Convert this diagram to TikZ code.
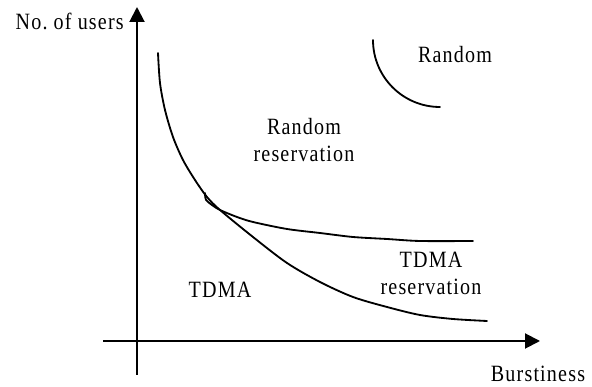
\documentclass[tikz,border=0pt]{standalone}
\usepackage{fontspec}
\setmainfont{Liberation Serif}[FakeStretch=0.86, LetterSpace=5]
\usepackage{tikz}
\usetikzlibrary{arrows.meta,calc,positioning}

\tikzset{
  axis/.style={line width=1.4pt, -{Triangle[length=0.375cm,width=0.375cm]}},
  border/.style={line width=1.3pt, line cap=round},
  lbl/.style={inner sep=0pt, anchor=base, font=\fontsize{16.6}{19}\selectfont}
}

\begin{document}
\begin{tikzpicture}
        \useasboundingbox (0,0) rectangle (14.8,9.675);
        % Axes
        \coordinate (ybot) at (3.425,0.3);
        \coordinate (ytop) at (3.425,9.5);
        \coordinate (xleft) at (2.575,1.15);
        \coordinate (xright) at (13.5,1.15);
        \draw[axis] (ybot) -- (ytop);
        \draw[axis] (xleft) -- (xright);
        \node[lbl, anchor=base east] (users) at (3.1,8.925) {No.\ of users};
        \node[lbl] (burst) at (13.45,0.125) {Burstiness};
        % Boundary TDMA / random reservation
        \draw[border] plot[smooth] coordinates {(3.95,8.35) (4.0,7.6) (4.125,6.925)
          (4.325,6.25) (4.575,5.675) (4.875,5.175) (5.175,4.75) (5.5,4.425)
          (6.325,3.75) (7.175,3.1) (8.0,2.625) (8.825,2.25) (9.675,2.0)
          (10.5,1.8) (11.325,1.7) (12.175,1.65)};
        % Boundary TDMA reservation
        \draw[border] plot[smooth] coordinates {(5.125,4.85) (5.15,4.68) (5.3,4.55)
          (5.5,4.425) (5.925,4.25) (6.325,4.125) (7.175,3.95) (8.0,3.85)
          (8.825,3.75) (9.675,3.7) (10.5,3.65) (11.825,3.65)};
        % Boundary random
        \draw[border] (9.325,8.675) arc[start angle=180, end angle=270, radius=1.675];
        % Regions
        \node[lbl] (random) at (11.375,8.1) {Random};
        \node[lbl] (rndres) at (7.6,6.3) {Random};
        \node[lbl] (rndres2) at (7.6,5.625) {reservation};
        \node[lbl] (tdma) at (5.5,2.225) {TDMA};
        \node[lbl] (tdmares) at (10.775,2.975) {TDMA};
        \node[lbl] (tdmares2) at (10.775,2.3) {reservation};
      \end{tikzpicture}
\end{document}
